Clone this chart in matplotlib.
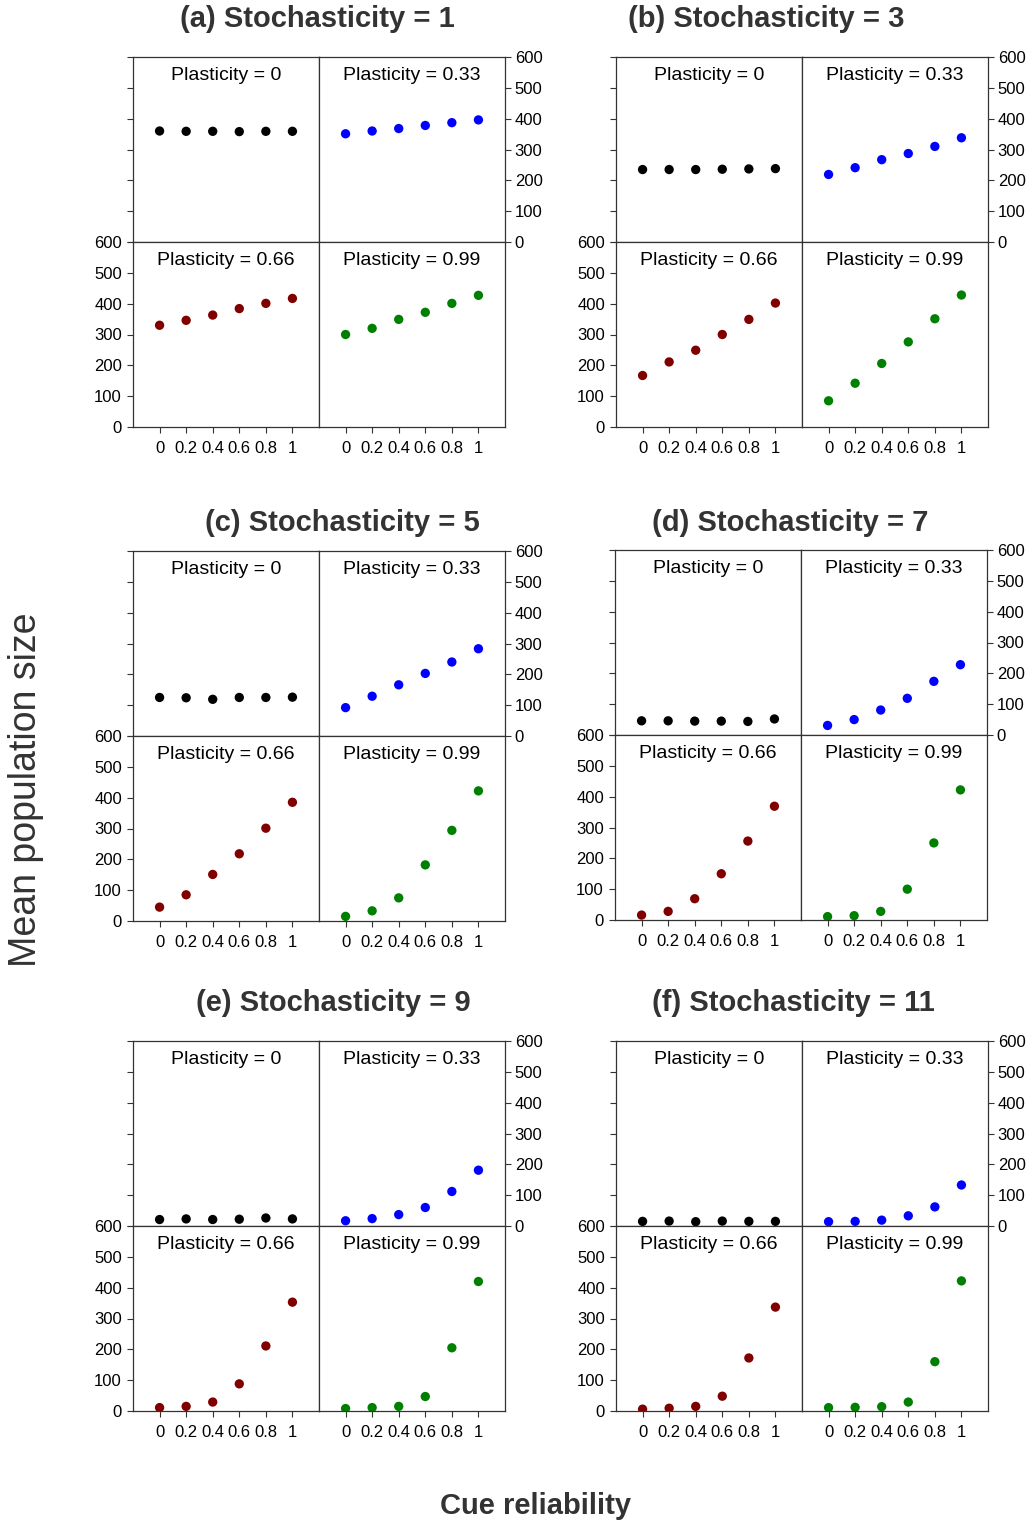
import matplotlib
matplotlib.use('Agg')
import matplotlib.pyplot as plt

plt.rcParams['font.family'] = ['Liberation Sans', 'DejaVu Sans']

reliability = [0, 0.2, 0.4, 0.6, 0.8, 1]
tick_labels = ['0', '0.2', '0.4', '0.6', '0.8', '1']
plasticity = ['0', '0.33', '0.66', '0.99']
colors = ['black', 'blue', '#800000', 'green']

stoch_titles = ['(a) Stochasticity = 1', '(b) Stochasticity = 3', '(c) Stochasticity = 5',
                '(d) Stochasticity = 7', '(e) Stochasticity = 9', '(f) Stochasticity = 11']

# mean population size, one list per plasticity level, per stochasticity panel
s1_p0 = [360, 359, 359, 358, 359, 359]
s1_p33 = [351, 360, 368, 378, 387, 396]
s1_p66 = [330, 346, 363, 384, 401, 417]
s1_p99 = [300, 320, 349, 372, 401, 427]

s3_p0 = [235, 235, 235, 236, 237, 238]
s3_p33 = [219, 241, 267, 287, 310, 338]
s3_p66 = [167, 211, 249, 300, 349, 402]
s3_p99 = [85, 142, 206, 276, 351, 428]

s5_p0 = [125, 124, 119, 125, 125, 126]
s5_p33 = [92, 129, 166, 203, 240, 283]
s5_p66 = [45, 85, 151, 218, 301, 385]
s5_p99 = [15, 33, 75, 182, 294, 422]

s7_p0 = [46, 46, 45, 45, 44, 52]
s7_p33 = [31, 50, 81, 119, 174, 228]
s7_p66 = [16, 28, 69, 150, 256, 369]
s7_p99 = [11, 14, 28, 100, 250, 422]

s9_p0 = [21, 23, 21, 22, 26, 23]
s9_p33 = [17, 24, 37, 60, 112, 181]
s9_p66 = [11, 15, 29, 88, 211, 353]
s9_p99 = [8, 11, 15, 47, 205, 420]

s11_p0 = [15, 16, 14, 16, 15, 15]
s11_p33 = [14, 15, 19, 33, 62, 133]
s11_p66 = [6, 9, 15, 48, 172, 337]
s11_p99 = [11, 12, 14, 29, 160, 422]

panels = [
    [s1_p0, s1_p33, s1_p66, s1_p99],
    [s3_p0, s3_p33, s3_p66, s3_p99],
    [s5_p0, s5_p33, s5_p66, s5_p99],
    [s7_p0, s7_p33, s7_p66, s7_p99],
    [s9_p0, s9_p33, s9_p66, s9_p99],
    [s11_p0, s11_p33, s11_p66, s11_p99],
]

W, H = 1029, 1526
fig = plt.figure(figsize=(W / 100, H / 100), dpi=100)

# pixel origin (left, top) of each 2x2 block, title centre x and y
origins = [(133, 57), (616, 57), (133, 551), (615, 550), (133, 1041), (616, 1041)]
title_x = [317, 766, 342, 790, 333, 793]
title_y = [19, 19, 523, 523, 1003, 1003]
cw, ch = 186, 185
spine_col = '#333333'

for k, (x0, y0) in enumerate(origins):
    for j in range(4):
        r, c = divmod(j, 2)
        left = (x0 + c * cw) / W
        bottom = 1 - (y0 + (r + 1) * ch) / H
        ax = fig.add_axes([left, bottom, cw / W, ch / H])
        ax.scatter(reliability, panels[k][j], s=45, color=colors[j], zorder=3,
                   edgecolors='none')
        ax.set_xlim(-0.2, 1.2)
        ax.set_ylim(0, 600)
        ax.set_xticks(reliability)
        ax.set_yticks(range(0, 601, 100))
        for sp in ax.spines.values():
            sp.set_color(spine_col)
            sp.set_linewidth(0.9)
        ax.tick_params(direction='out', length=4, width=0.8, color=spine_col,
                       labelsize=12, pad=4)
        ax.text(0.5, 0.9, 'Plasticity = ' + plasticity[j], transform=ax.transAxes,
                ha='center', va='center', fontsize=14)
        if r == 0:
            ax.set_xticklabels([])
        else:
            ax.set_xticklabels(tick_labels)
            ax.tick_params(axis='x', pad=6)
        if c == 0:
            if r == 0:
                ax.set_yticklabels([])
        else:
            if r == 0:
                ax.yaxis.tick_right()
                ax.tick_params(axis='y', direction='out', length=4, width=0.8,
                               color=spine_col, labelsize=12, pad=3)
            else:
                ax.tick_params(axis='y', left=False, labelleft=False)
    fig.text(title_x[k] / W, 1 - title_y[k] / H, stoch_titles[k], ha='center',
             va='center', fontsize=21, fontweight='bold', color='#333333')

fig.text(26 / W, 1 - 790 / H, 'Mean population size', rotation=90, ha='center',
         va='center', fontsize=27, color='#333333')
fig.text(536 / W, 1 - 1506 / H, 'Cue reliability', ha='center', va='center',
         fontsize=21, fontweight='bold', color='#333333')

fig.savefig('out.png', dpi=100)
